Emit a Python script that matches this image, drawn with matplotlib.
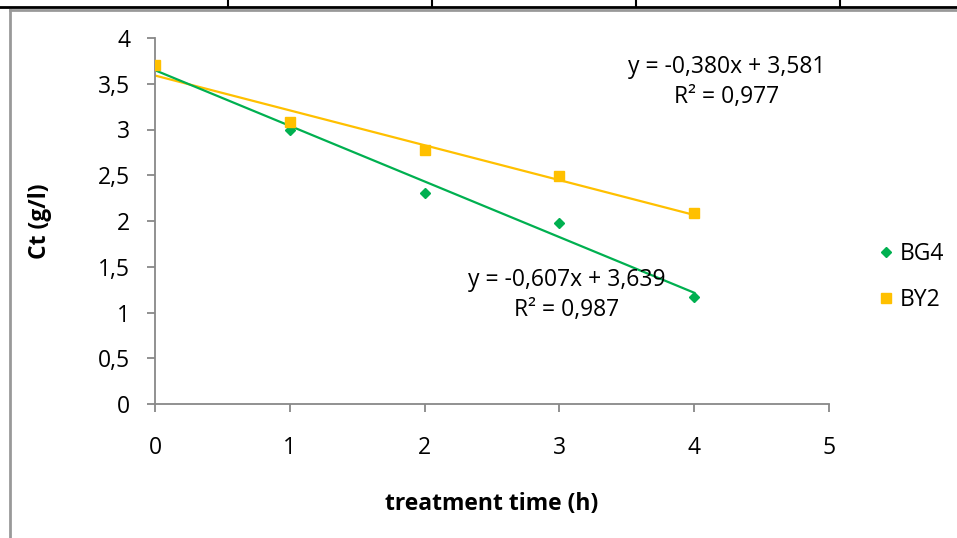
import matplotlib
matplotlib.use("Agg")
import matplotlib.pyplot as plt
import numpy as np
from matplotlib.lines import Line2D

plt.rcParams['font.family'] = ['Open Sans', 'DejaVu Sans']

# data
time_h = [0, 1, 2, 3, 4]
bg4 = [3.70, 3.00, 2.31, 1.98, 1.17]
by2 = [3.70, 3.08, 2.78, 2.49, 2.09]
eq_bg4 = "y = -0,607x + 3,639\nR² = 0,987"
eq_by2 = "y = -0,380x + 3,581\nR² = 0,977"

green = "#00B050"
yellow = "#FFC000"
W, H = 957, 538
fs = 16.5

fig = plt.figure(figsize=(W / 100, H / 100), dpi=100)
ax = fig.add_axes([155 / W, 1 - 404 / H, (829 - 155) / W, (404 - 38) / H])

x = np.array(time_h)
xl = np.array([0, 4])
# trendlines
for ys, c in [(by2, yellow), (bg4, green)]:
    p = np.polyfit(x, ys, 1)
    ax.plot(xl, np.polyval(p, xl), color=c, lw=1.6, zorder=2)

ax.plot(x, bg4, "D", color=green, ms=5, ls="none", label="BG4", zorder=3)
ax.plot(x, by2, "s", color=yellow, ms=7, ls="none", label="BY2", zorder=3)

ax.set_xlim(0, 5)
ax.set_ylim(0, 4)
ax.set_xticks(range(6))
ax.set_yticks(np.arange(0, 4.01, 0.5))
ax.set_yticklabels([("%g" % v).replace(".", ",") for v in np.arange(0, 4.01, 0.5)])
for s in ["top", "right"]:
    ax.spines[s].set_visible(False)
for s in ["left", "bottom"]:
    ax.spines[s].set_color("#888888")
    ax.spines[s].set_linewidth(1.3)
ax.tick_params(colors="#888888", length=6, width=1.3, labelcolor="black", labelsize=fs)
ax.tick_params(axis="x", pad=17)
ax.tick_params(axis="y", pad=12)

ax.set_xlabel("treatment time (h)", fontsize=fs, fontweight="bold", labelpad=23)
ax.set_ylabel("Ct (g/l)", fontsize=fs, fontweight="bold", labelpad=33)

fig.text(727 / W, 1 - 82 / H, eq_by2, ha="center", va="center", fontsize=fs,
         multialignment="center", linespacing=1.3)
fig.text(567 / W, 1 - 295 / H, eq_bg4, ha="center", va="center", fontsize=fs,
         multialignment="center", linespacing=1.3)

leg = fig.legend(loc="center left", bbox_to_anchor=(854 / W, 1 - 277 / H), frameon=False,
                 fontsize=fs, handletextpad=0.1, labelspacing=1.0, handlelength=1.0)

# border bits from the surrounding page
fig.add_artist(Line2D([0, 1], [1 - 7 / H] * 2, color="black", lw=2, transform=fig.transFigure))
for px in [228, 432, 636, 840]:
    fig.add_artist(Line2D([px / W] * 2, [1, 1 - 7 / H], color="black", lw=1.5, transform=fig.transFigure))
fig.add_artist(Line2D([10 / W, 1], [1 - 10 / H] * 2, color="#999999", lw=2, transform=fig.transFigure))
fig.add_artist(Line2D([10 / W] * 2, [0, 1 - 10 / H], color="#999999", lw=2, transform=fig.transFigure))

fig.savefig("out.png", dpi=100)
